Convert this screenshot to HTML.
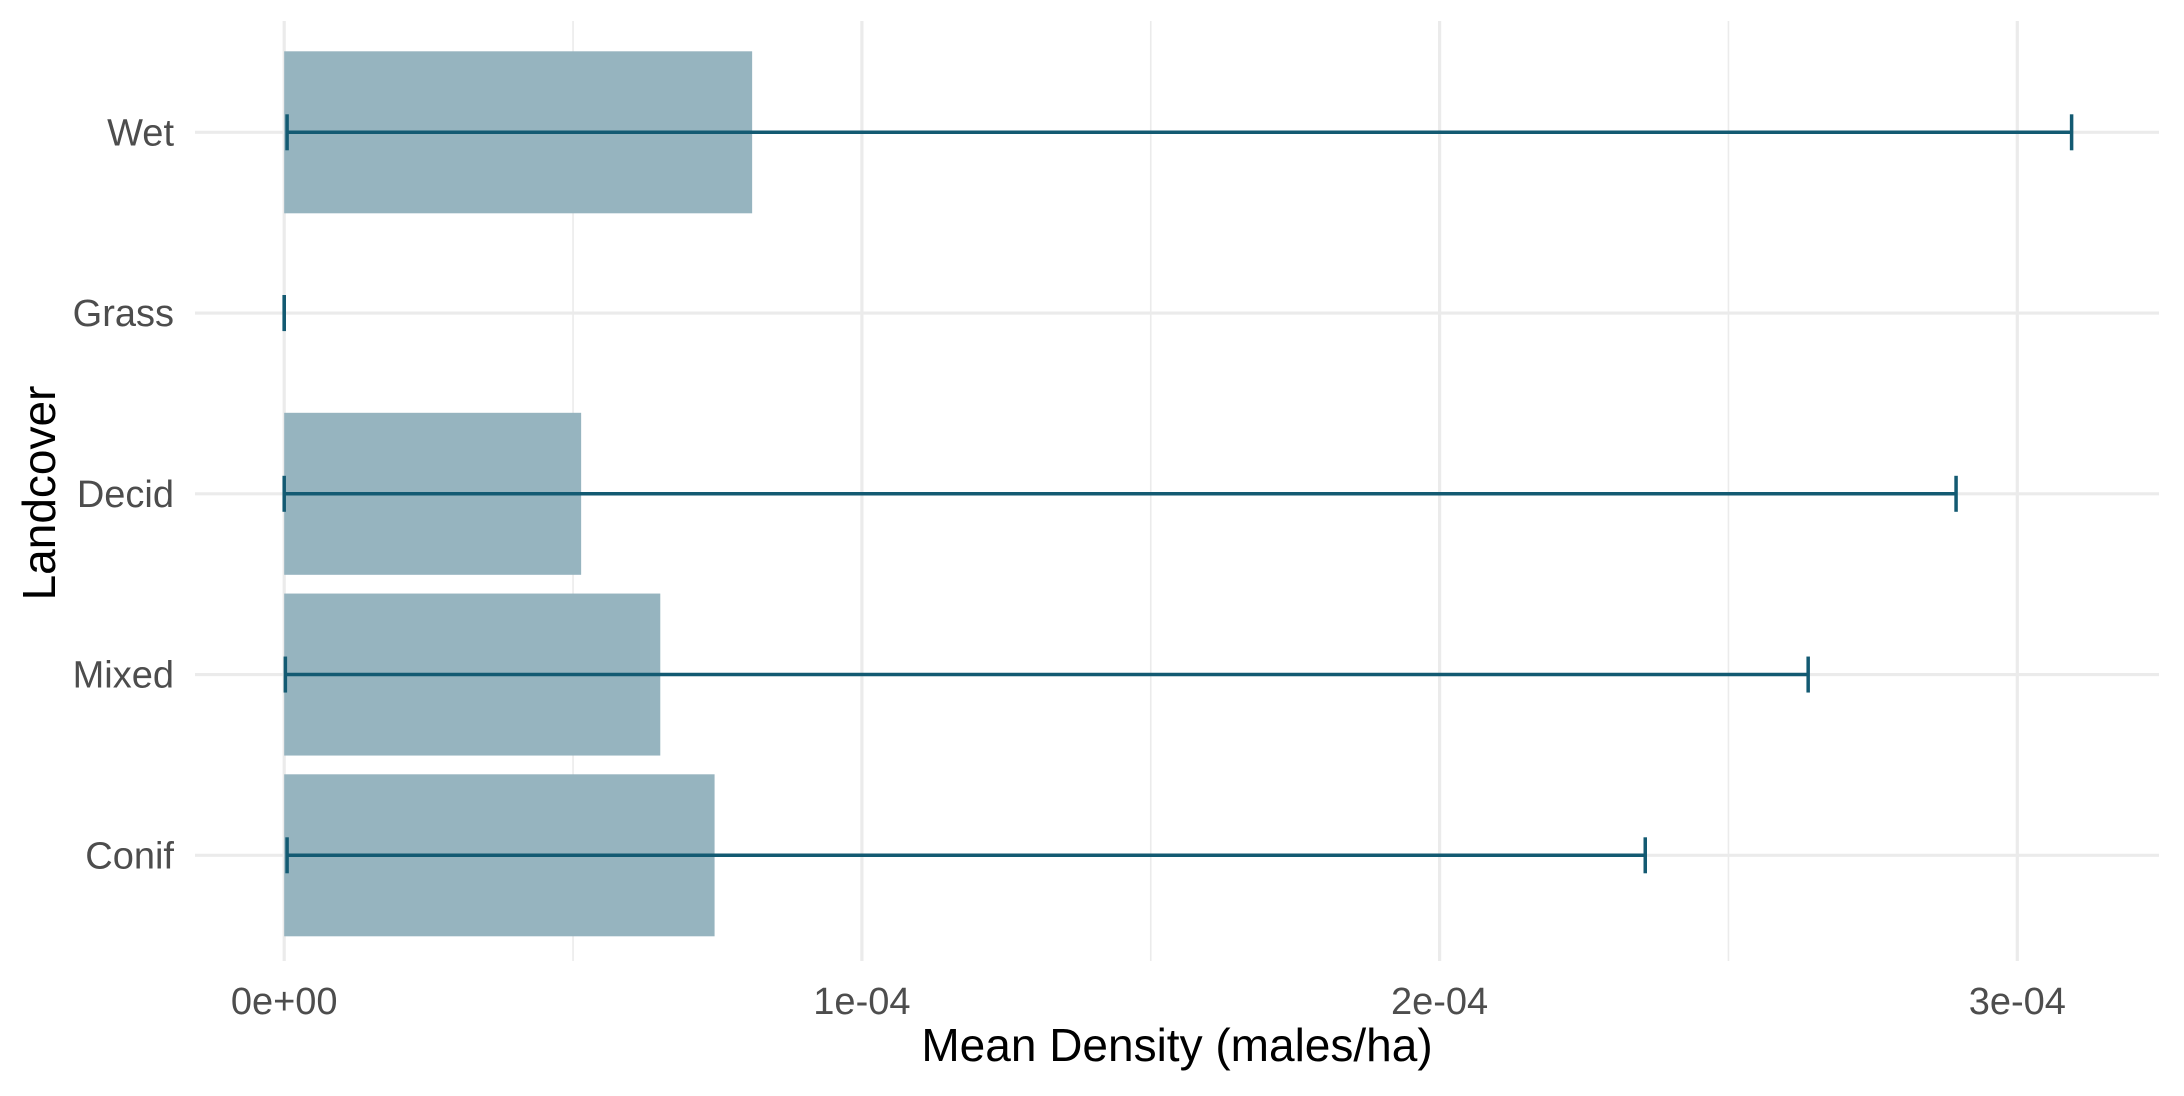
<!DOCTYPE html>
<html><head><meta charset="utf-8"><style>
html,body{margin:0;padding:0;background:#fff;}
svg{display:block;font-family:"Liberation Sans",Arial,sans-serif;}
</style></head><body>
<svg id="chart" width="2184" height="1096" viewBox="0 0 2184 1096" xmlns="http://www.w3.org/2000/svg">
<rect width="2184" height="1096" fill="#fff"/>
<g id="grid"></g><g id="bars"></g><g id="errs"></g><g id="ylabels"></g><g id="xlabels"></g>
<text x="1177" y="1061" text-anchor="middle" font-size="46" fill="#000">Mean Density (males/ha)</text>
<text transform="translate(55,493) rotate(-90)" text-anchor="middle" font-size="46" fill="#000">Landcover</text>
</svg>
<script>
const categories = ["Wet","Grass","Decid","Mixed","Conif"];
const means = [0.81e-4, 0, 0.514e-4, 0.651e-4, 0.745e-4];
const lowers = [0.005e-4, 0, 0.0, 0.002e-4, 0.005e-4];
const uppers = [3.094e-4, 0, 2.894e-4, 2.638e-4, 2.356e-4];
const majorTicks = [0, 1e-4, 2e-4, 3e-4];
const tickLabels = ["0e+00","1e-04","2e-04","3e-04"];
const minorTicks = [0.5e-4, 1.5e-4, 2.5e-4];

const NS="http://www.w3.org/2000/svg";
const X0=284.2, XS=577.7/1e-4;
const x = v => X0 + v*XS;
const Y0=132.3, YS=180.75;
const y = i => Y0 + i*YS;
const PT=21, PB=961, PL=195, PR=2159;
function mk(tag, attrs, parent){const e=document.createElementNS(NS,tag);for(const k in attrs)e.setAttribute(k,attrs[k]);parent.appendChild(e);return e;}
const grid=document.getElementById('grid');
minorTicks.forEach(t=>{
  const l=mk('line',{x1:x(t),x2:x(t),y1:PT,y2:PB,stroke:'#ebebeb','stroke-width':1.6},grid);
  
  
});
majorTicks.forEach((t,i)=>{
  const l=mk('line',{x1:x(t),x2:x(t),y1:PT,y2:PB,stroke:'#ebebeb','stroke-width':3.2},grid);
  
  
  const tx=mk('text',{x:x(t),y:1014,'text-anchor':'middle','font-size':38,fill:'#4d4d4d'},document.getElementById('xlabels'));
  tx.textContent=tickLabels[i];
  
  
});
categories.forEach((c,i)=>{
  const l=mk('line',{x1:PL,x2:PR,y1:y(i),y2:y(i),stroke:'#ebebeb','stroke-width':3.2},grid);
  
  
  const t=mk('text',{x:174,y:y(i)+13,'text-anchor':'end','font-size':38,fill:'#4d4d4d'},document.getElementById('ylabels'));
  t.textContent=c;
  
  
  if(means[i]>0){
    const b=mk('rect',{x:x(0),y:y(i)-81,width:x(means[i])-x(0),height:162,fill:'#96b4bf'},document.getElementById('bars'));
    
    
  }
  const g=mk('g',{stroke:'#135a72','stroke-width':3.5},document.getElementById('errs'));
  
  
  mk('line',{x1:x(lowers[i]),x2:x(uppers[i]),y1:y(i),y2:y(i)},g);
  mk('line',{x1:x(lowers[i]),x2:x(lowers[i]),y1:y(i)-18,y2:y(i)+18},g);
  mk('line',{x1:x(uppers[i]),x2:x(uppers[i]),y1:y(i)-18,y2:y(i)+18},g);
});
</script>
</body></html>
